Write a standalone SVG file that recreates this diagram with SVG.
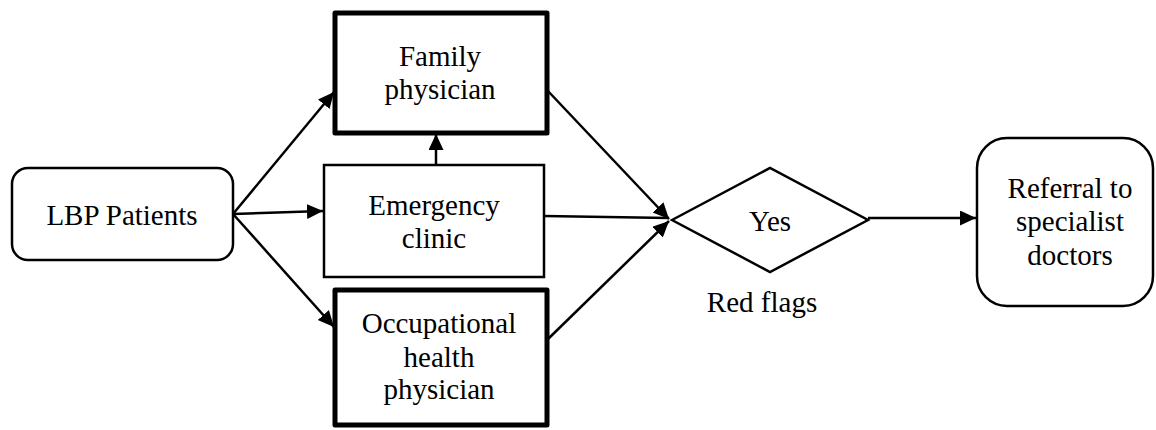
<svg xmlns="http://www.w3.org/2000/svg" width="1156" height="430" viewBox="0 0 1156 430">
<style>
.t{font-family:"Liberation Serif","Times New Roman",serif;font-size:29px;fill:#000;text-anchor:middle}
.thin{fill:#fff;stroke:#000;stroke-width:2.5}
.thick{fill:#fff;stroke:#000;stroke-width:5;stroke-linejoin:round}
.c{fill:none;stroke:#000;stroke-width:2.5}
</style>
<defs>
<marker id="ah" markerUnits="userSpaceOnUse" markerWidth="18" markerHeight="16" refX="16" refY="7.5" orient="auto">
<path d="M0,0 L16,7.5 L0,15 Z" fill="#000"/>
</marker>
</defs>
<rect width="1156" height="430" fill="#fff"/>
<g id="lbp">
<rect class="thin" x="12" y="168" width="221" height="92" rx="16"/>
<text class="t" x="122" y="225">LBP Patients</text>
</g>
<g id="family">
<rect class="thick" x="335" y="13" width="212" height="120"/>
<text class="t" x="440" y="66">Family</text>
<text class="t" x="440" y="99">physician</text>
</g>
<g id="emergency">
<rect class="thin" x="324" y="165" width="220" height="112"/>
<text class="t" x="434" y="215">Emergency</text>
<text class="t" x="434" y="248">clinic</text>
</g>
<g id="occupational">
<rect class="thick" x="335" y="290" width="212" height="135"/>
<text class="t" x="439" y="333">Occupational</text>
<text class="t" x="439" y="367">health</text>
<text class="t" x="439" y="399">physician</text>
</g>
<g id="redflags">
<polygon class="thin" points="672,220 770,168 868,220 770,272"/>
<text class="t" x="770" y="231">Yes</text>
<text class="t" x="762" y="312">Red flags</text>
</g>
<g id="referral">
<rect class="thin" x="977" y="138" width="176" height="168" rx="30"/>
<text class="t" x="1070" y="198">Referral to</text>
<text class="t" x="1070" y="231">specialist</text>
<text class="t" x="1070" y="265">doctors</text>
</g>
<g id="connectors">
<line class="c" x1="233" y1="214" x2="334" y2="92" marker-end="url(#ah)"/>
<line class="c" x1="233" y1="214" x2="323" y2="211" marker-end="url(#ah)"/>
<line class="c" x1="233" y1="214" x2="334" y2="327" marker-end="url(#ah)"/>
<line class="c" x1="436" y1="165" x2="436" y2="134" marker-end="url(#ah)"/>
<line class="c" x1="547" y1="90" x2="669" y2="219" marker-end="url(#ah)"/>
<line class="c" x1="544" y1="216" x2="669" y2="218"/>
<line class="c" x1="547" y1="340" x2="669" y2="221" marker-end="url(#ah)"/>
<line class="c" x1="868" y1="218" x2="976" y2="218" marker-end="url(#ah)"/>
</g>
</svg>
